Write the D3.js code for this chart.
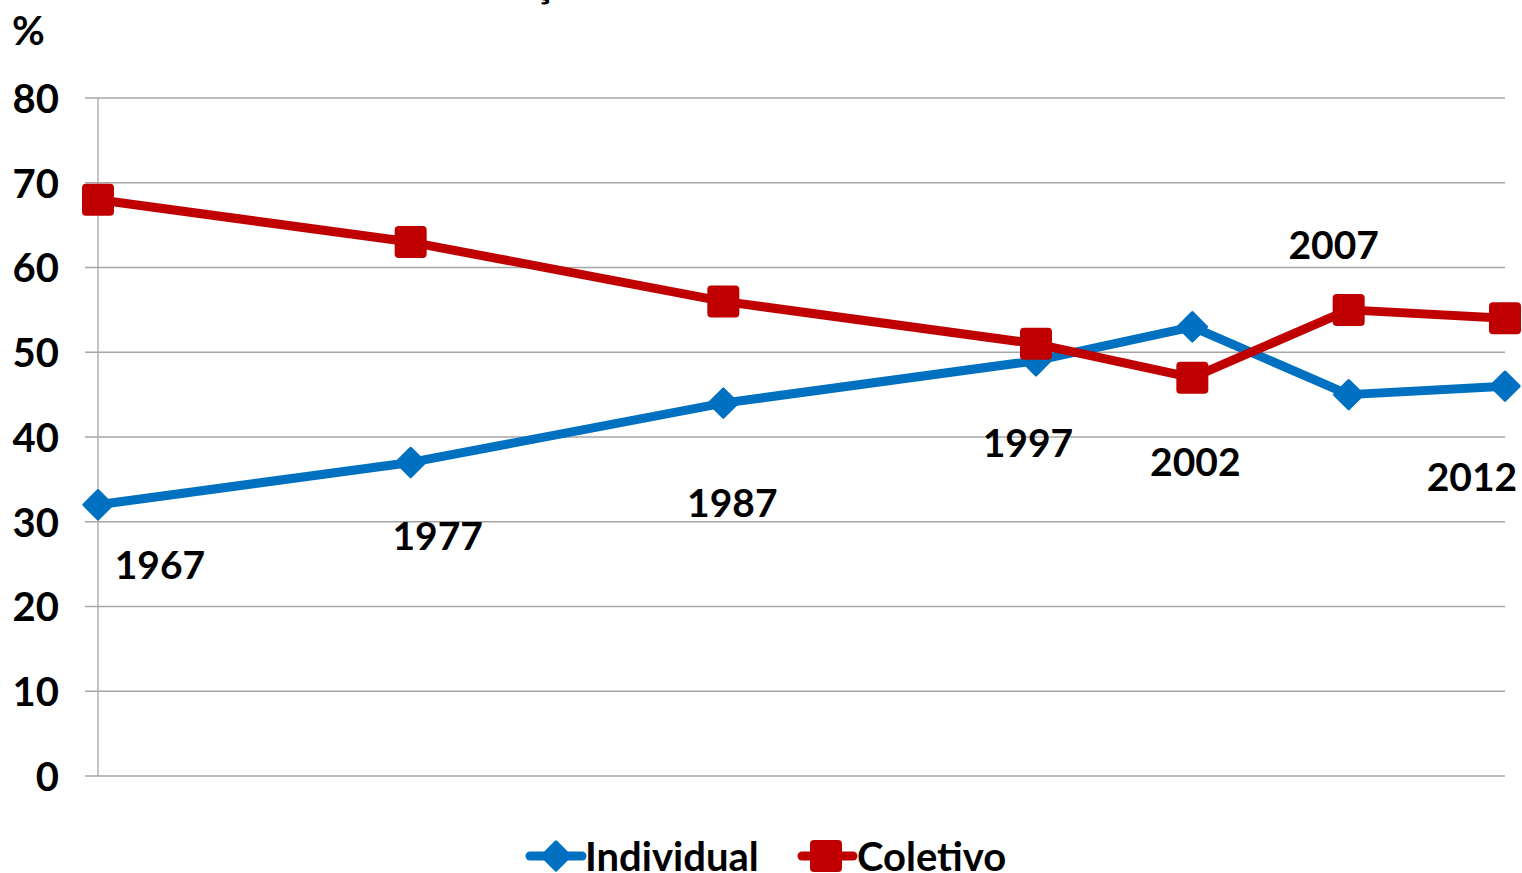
<!DOCTYPE html>
<html>
<head>
<meta charset="utf-8">
<script src="https://cdn.jsdelivr.net/npm/d3@7"></script>
<style>
  body { margin: 0; background: #fff; }
  text { font-family: Lato, "Open Sans", sans-serif; font-weight: 700; fill: #000; }
</style>
</head>
<body>
<div id="chart"></div>
<script>
// Data
var years = [1967, 1977, 1987, 1997, 2002, 2007, 2012];
var individual = [32, 37, 44, 49, 53, 45, 46];
var coletivo = [68, 63, 56, 51, 47, 55, 54];
var yTicks = [0, 10, 20, 30, 40, 50, 60, 70, 80];

// Pixel offsets of the year labels from the blue points (layout only)
var labelOffsets = [[62, 74], [27, 88], [9, 114], [-8, 96], [3, 149], [-15, -136], [-33, 105]];

var svgWidth = 1522;
var svgHeight = 873;

var svg = d3.select("#chart")
  .append("svg")
  .attr("width", svgWidth)
  .attr("height", svgHeight);

var xScale = d3.scaleLinear()
  .domain([1967, 2012])
  .range([98, 1505]);

var yScale = d3.scaleLinear()
  .domain([0, 80])
  .range([776, 98]);

// Gridlines
svg.append("g")
  .selectAll("line")
  .data(yTicks)
  .enter()
  .append("line")
  .attr("x1", 85)
  .attr("x2", 1505)
  .attr("y1", d => yScale(d))
  .attr("y2", d => yScale(d))
  .attr("stroke", "#a6a6a6")
  .attr("stroke-width", 1.3);

// Vertical axis line
svg.append("line")
  .attr("x1", xScale(1967))
  .attr("x2", xScale(1967))
  .attr("y1", yScale(80))
  .attr("y2", yScale(0))
  .attr("stroke", "#a6a6a6")
  .attr("stroke-width", 1.3);

// Y tick labels
var leftAxis = d3.axisLeft(yScale).tickValues(yTicks).tickSize(0).tickPadding(0);
var yAxisG = svg.append("g")
  .attr("transform", "translate(59, 0)")
  .call(leftAxis);
yAxisG.select(".domain").remove();
yAxisG.selectAll("text")
  .attr("font-size", "40px")
  .attr("font-family", "Lato, sans-serif")
  .attr("font-weight", 700)
  .attr("fill", "#000")
  .attr("dy", "0.36em");

svg.append("text")
  .attr("x", 12)
  .attr("y", 45)
  .attr("font-size", "40px")
  .text("%");

// cut off title
svg.append("text")
  .attr("x", 534)
  .attr("y", -3)
  .attr("font-size", "40px")
  .text("ç");

var line = d3.line()
  .x((d, i) => xScale(years[i]))
  .y(d => yScale(d));

// Individual
svg.append("path")
  .datum(individual)
  .attr("d", line)
  .attr("fill", "none")
  .attr("stroke", "#0070c0")
  .attr("stroke-width", 9)
  .attr("stroke-linejoin", "round");

svg.append("g")
  .selectAll("path")
  .data(individual)
  .enter()
  .append("path")
  .attr("transform", (d, i) => `translate(${xScale(years[i])}, ${yScale(d)}) rotate(45)`)
  .attr("d", "M-10,-10H10V10H-10Z")
  .attr("fill", "#0070c0")
  .attr("stroke", "#0070c0")
  .attr("stroke-width", 3)
  .attr("stroke-linejoin", "round");

// Coletivo
svg.append("path")
  .datum(coletivo)
  .attr("d", line)
  .attr("fill", "none")
  .attr("stroke", "#c00000")
  .attr("stroke-width", 9)
  .attr("stroke-linejoin", "round");

svg.append("g")
  .selectAll("rect")
  .data(coletivo)
  .enter()
  .append("rect")
  .attr("x", (d, i) => xScale(years[i]) - 16)
  .attr("y", d => yScale(d) - 16)
  .attr("width", 32)
  .attr("height", 32)
  .attr("rx", 4)
  .attr("fill", "#c00000");

// Year labels
svg.append("g")
  .selectAll("text")
  .data(years)
  .enter()
  .append("text")
  .attr("x", (d, i) => xScale(d) + labelOffsets[i][0])
  .attr("y", (d, i) => yScale(individual[i]) + labelOffsets[i][1])
  .attr("text-anchor", "middle")
  .attr("font-size", "39px")
  .text(d => d);

// Legend
var legend = svg.append("g");
legend.append("line")
  .attr("x1", 530).attr("x2", 582)
  .attr("y1", 856).attr("y2", 856)
  .attr("stroke", "#0070c0").attr("stroke-width", 9).attr("stroke-linecap", "round");
legend.append("path")
  .attr("transform", "translate(556, 856) rotate(45)")
  .attr("d", "M-10,-10H10V10H-10Z")
  .attr("fill", "#0070c0")
  .attr("stroke", "#0070c0")
  .attr("stroke-width", 3)
  .attr("stroke-linejoin", "round");
legend.append("text")
  .attr("x", 585).attr("y", 871)
  .attr("font-size", "40px")
  .text("Individual");

legend.append("line")
  .attr("x1", 802).attr("x2", 853)
  .attr("y1", 856).attr("y2", 856)
  .attr("stroke", "#c00000").attr("stroke-width", 9).attr("stroke-linecap", "round");
legend.append("rect")
  .attr("x", 810).attr("y", 840)
  .attr("width", 32).attr("height", 32).attr("rx", 4)
  .attr("fill", "#c00000");
legend.append("text")
  .attr("x", 857).attr("y", 871)
  .attr("font-size", "40px")
  .text("Coletivo");
</script>
</body>
</html>
